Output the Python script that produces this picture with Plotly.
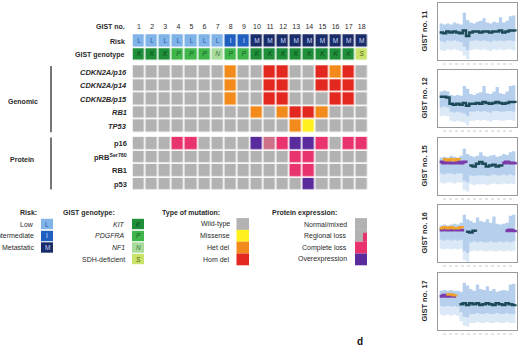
import plotly.graph_objects as go

W, H = 522, 348

# ---------------- data ----------------
gist_no = list(range(1, 19))
risk = ["L", "L", "L", "L", "L", "L", "L", "I", "I", "M", "M", "M", "M", "M", "M", "M", "M", "M"]
genotype = ["K", "K", "K", "P", "P", "P", "N", "P", "P", "K", "K", "K", "K", "K", "K", "K", "K", "S"]

genomic_labels = ["CDKN2A/p16", "CDKN2A/p14", "CDKN2B/p15", "RB1", "TP53"]
# '-' wild type, 'm' missense, 'h' het del, 'H' hom del
genomic_calls = [
    "-------h--HH--HhH-",
    "-------h--HH--HHH-",
    "-------h--HH---HH-",
    "---------h-hHHh---",
    "------------hm----",
]
protein_labels = ["p16", "pRB<sup>Ser780</sup>", "RB1", "p53"]
# '-' normal/mixed, 'r' regional loss, 'c' complete loss, 'o' overexpression
protein_calls = [
    "---cc----orcooc-cc",
    "------------cc----",
    "------------cc----",
    "-------------o----",
]

risk_legend = ["Low", "Intermediate", "Metastatic"]
risk_letters = ["L", "I", "M"]
geno_legend = ["<i>KIT</i>", "<i>PDGFRA</i>", "<i>NF1</i>", "SDH-deficient"]
geno_letters = ["K", "P", "N", "S"]
mut_legend = ["Wild-type", "Missense", "Het del", "Hom del"]
prot_legend = ["Normal/mixed", "Regional loss", "Complete loss", "Overexpression"]

panel_names = ["GIST no. 11", "GIST no. 12", "GIST no. 15", "GIST no. 16", "GIST no. 17"]
panel_hi = [
    [0.35, 0.3, 0.35, 0.3, 0.4, 0.35, 0.3, 0.95, 0.55, 0.4, 0.35, 0.45, 0.5, 0.65, 0.4, 0.35, 0.45, 0.4, 0.7, 0.4, 0.5, 0.75, 0.8, 0.4],
    [0.3, 0.35, 0.3, 0.1, 0.05, 0.1, 0.05, 0.6, 0.45, 0.15, 0.1, 0.2, 0.25, 0.6, 0.2, 0.15, 0.3, 0.55, 0.2, 0.15, 0.3, 0.6, 0.65, 0.2],
    [0.4, 0.45, 0.4, 0.5, 0.45, 0.4, 0.5, 0.9, 0.6, 0.5, 0.45, 0.5, 0.7, 0.5, 0.45, 0.5, 0.55, 0.45, 0.5, 0.6, 0.55, 0.7, 0.75, 0.5],
    [0.35, 0.4, 0.35, 0.4, 0.45, 0.4, 0.5, 0.95, 0.7, 0.6, 0.5, 0.8, 0.6, 0.55, 0.7, 0.5, 0.85, 0.45, 0.4, 0.45, 0.5, 0.9, 0.95, 0.5],
    [0.5, 0.55, 0.5, 0.55, 0.5, 0.5, 0.45, 0.95, 0.8, 0.6, 0.5, 0.85, 0.6, 0.55, 0.75, 0.5, 0.6, 0.45, 0.5, 0.55, 0.5, 0.85, 0.9, 0.45],
]
panel_lo = [
    [-0.65, -0.7, -0.6, -0.65, -0.6, -0.65, -0.7, -0.95, -1.15, -0.65, -0.6, -0.6, -0.65, -0.6, -0.65, -0.7, -0.6, -0.65, -0.6, -0.65, -0.6, -0.6, -0.65, -0.6],
    [-0.6, -0.55, -0.6, -0.85, -0.9, -0.85, -0.9, -0.95, -1.1, -0.85, -0.85, -0.8, -0.85, -0.8, -0.85, -0.9, -0.8, -0.8, -0.85, -0.85, -0.8, -0.8, -0.85, -0.85],
    [-0.5, -0.55, -0.5, -0.5, -0.55, -0.5, -0.5, -0.9, -1.0, -0.6, -0.65, -0.6, -0.6, -0.6, -0.65, -0.6, -0.55, -0.6, -0.6, -0.55, -0.6, -0.55, -0.6, -0.6],
    [-0.45, -0.5, -0.45, -0.5, -0.45, -0.5, -0.45, -1.1, -1.2, -0.6, -0.55, -0.6, -0.55, -0.6, -0.6, -0.55, -0.6, -0.6, -0.55, -0.6, -0.55, -0.6, -0.55, -0.5],
    [-0.35, -0.4, -0.35, -0.4, -0.35, -0.4, -0.7, -0.95, -1.0, -0.8, -0.8, -0.75, -0.8, -0.8, -0.75, -0.8, -0.8, -0.75, -0.8, -0.8, -0.75, -0.8, -0.8, -0.75],
]
panel_seg = [
    [-0.15, -0.2, -0.1, -0.15, -0.1, -0.15, -0.2, -0.05, -0.35, -0.15, -0.1, -0.1, -0.15, -0.1, -0.1, -0.15, -0.1, -0.1, -0.05, -0.15, -0.1, -0.05, -0.05, -0.1],
    [0.0, 0.0, -0.05, -0.4, -0.45, -0.4, -0.45, -0.35, -0.5, -0.4, -0.4, -0.35, -0.4, -0.3, -0.35, -0.4, -0.35, -0.3, -0.35, -0.4, -0.35, -0.3, -0.3, -0.35],
    [None] * 9 + [-0.05, -0.1, 0.05, 0.15, 0.05, -0.1, -0.05, 0.0, -0.1, -0.05, -0.1, None, None, None, None],
    [None] * 8 + [0.0, -0.05, 0.05, 0.0] + [None] * 12,
    [None] * 6 + [-0.25, -0.2, -0.3, -0.2, -0.25, -0.2, -0.3, -0.25, -0.2, -0.25, -0.3, -0.2, -0.25, -0.3, -0.2, -0.25, -0.3, -0.25],
]
panel_purple = [
    None,
    None,
    [0.15, 0.1, 0.15, 0.1, 0.1, 0.15, 0.1, 0.15, 0.1] + [None] * 10 + [0.1, 0.15, 0.1, 0.1, 0.15],
    [0.1, 0.15, 0.1, 0.1, 0.15, 0.1, 0.1, 0.15] + [None] * 12 + [0.05, 0.1, 0.05, 0.1],
    [0.2, 0.25, 0.2, 0.25, 0.2, 0.2] + [None] * 18,
]
panel_orange = [
    None,
    None,
    [None, 0.3, 0.25, 0.3, 0.25, 0.3, 0.25] + [None] * 17,
    [0.2, 0.25, 0.2, 0.25, 0.2, 0.2, 0.25, 0.2] + [None] * 16,
    [None, None, 0.3, 0.3, 0.25, 0.3] + [None] * 18,
]

# ---------------- codes / colours ----------------
palette = [
    "#b2b2b2",  # 0 wild type / normal
    "#fff01e",  # 1 missense
    "#f28b1c",  # 2 het del
    "#e3281f",  # 3 hom del
    "#cd7088",  # 4 regional loss
    "#e8336d",  # 5 complete loss
    "#5a2b9c",  # 6 overexpression
    "#80b3e8",  # 7 risk L
    "#1f5fbf",  # 8 risk I
    "#1b2d68",  # 9 risk M
    "#1f8f3a",  # 10 KIT
    "#3fb54a",  # 11 PDGFRA
    "#a9dc9c",  # 12 NF1
    "#c9e26a",  # 13 SDH
]
gen_code = {"-": 0, "m": 1, "h": 2, "H": 3}
prot_code = {"-": 0, "r": 4, "c": 5, "o": 6}
risk_code = {"L": 7, "I": 8, "M": 9}
geno_code = {"K": 10, "P": 11, "N": 12, "S": 13}
risk_text_col = {"L": "#2a5aa8", "I": "#cfe0ff", "M": "#c8d6ff"}
geno_text_col = {"K": "#0c4a1c", "P": "#14602a", "N": "#3d7a3d", "S": "#4d5a10"}

n = len(palette)
cscale = []
for i, c in enumerate(palette):
    cscale.append([i / n, c])
    cscale.append([(i + 1) / n, c])

FONT = "Liberation Sans, Arial, sans-serif"
TXT = "#2a2a2a"

# row positions (axis units)
y_numbers = -1.05
y_header = [0, 1]
y_genomic = [2.3, 3.3, 4.3, 5.3, 6.3]
y_protein = [7.6, 8.6, 9.6, 10.6]
y_top, y_bot = -1.7, 11.1
ROW_PX = 13.5

# pixel layout of main grid
gx0, gx1 = 132.5, 368.3
gy_top = 41 + y_top * ROW_PX
gy_bot = 41 + y_bot * ROW_PX


def px(x):
    return x / W


def py(y):
    return 1 - y / H


fig = go.Figure()

hm_common = dict(x=gist_no, zmin=-0.5, zmax=n - 0.5, colorscale=cscale, showscale=False,
                 xgap=1.6, ygap=1.6, hoverinfo="skip")
fig.add_trace(go.Heatmap(z=[[risk_code[r] for r in risk], [geno_code[g] for g in genotype]],
                         y=y_header, **hm_common))
fig.add_trace(go.Heatmap(z=[[gen_code[c] for c in row] for row in genomic_calls],
                         y=y_genomic, **hm_common))
fig.add_trace(go.Heatmap(z=[[prot_code[c] for c in row] for row in protein_calls],
                         y=y_protein, **hm_common))

# letters in the risk / genotype cells
fig.add_trace(go.Scatter(x=gist_no, y=[y_header[0]] * 18, mode="text", text=risk,
                         textfont=dict(size=6.5, family=FONT, color=[risk_text_col[r] for r in risk]),
                         hoverinfo="skip", cliponaxis=False, showlegend=False))
fig.add_trace(go.Scatter(x=gist_no, y=[y_header[1]] * 18, mode="text",
                         text=["<i>%s</i>" % g for g in genotype],
                         textfont=dict(size=6.5, family=FONT, color=[geno_text_col[g] for g in genotype]),
                         hoverinfo="skip", cliponaxis=False, showlegend=False))
# GIST numbers
fig.add_trace(go.Scatter(x=gist_no, y=[y_numbers] * 18, mode="text", text=[str(g) for g in gist_no],
                         textfont=dict(size=7, family=FONT, color=TXT),
                         hoverinfo="skip", cliponaxis=False, showlegend=False))

annotations = []
shapes = []


def label(text, x, y, yref="paper", size=7, bold=False, anchor="right", color=TXT, angle=0):
    t = "<b>%s</b>" % text if bold else text
    annotations.append(dict(text=t, x=x, y=y, xref="paper", yref=yref, showarrow=False,
                            xanchor=anchor, yanchor="middle", textangle=angle,
                            font=dict(size=size, family=FONT, color=color)))


# header row labels
lab_x = px(127)
label("GIST no.", lab_x, y_numbers, yref="y", bold=True)
label("Risk", lab_x, y_header[0], yref="y", bold=True)
label("GIST genotype", lab_x, y_header[1], yref="y", bold=True)
for t, yy in zip(genomic_labels, y_genomic):
    label("<i><b>%s</b></i>" % t, px(129), yy, yref="y", size=7.5)
for t, yy in zip(protein_labels, y_protein):
    label("<b>%s</b>" % t, px(129), yy, yref="y", size=7.5)

# group labels and bars
label("Genomic", px(23), 4.5, yref="y", bold=True, anchor="center")
label("Protein", px(22), 8.8, yref="y", bold=True, anchor="center")
shapes.append(dict(type="line", xref="paper", yref="y", x0=px(51), x1=px(51),
                   y0=1.85, y1=6.75, line=dict(color="#555", width=1.6)))
shapes.append(dict(type="line", xref="paper", yref="y", x0=px(51), x1=px(51),
                   y0=7.15, y1=11.0, line=dict(color="#555", width=1.6)))

# ---------------- legends ----------------
leg_rows = [224, 236, 247.5, 259]
label("Risk:", px(18), py(212.5), bold=True, anchor="left")
for i, (t, l) in enumerate(zip(risk_legend, risk_letters)):
    yc = leg_rows[i]
    label(t, px(36), py(yc))
    shapes.append(dict(type="rect", xref="paper", yref="paper", x0=px(41), x1=px(53),
                       y0=py(yc + 5.2), y1=py(yc - 5.2), line=dict(width=0),
                       fillcolor=palette[risk_code[l]]))
    label(l, px(47), py(yc), anchor="center", size=6.5, color=risk_text_col[l])

label("GIST genotype:", px(61), py(212.5), bold=True, anchor="left")
for i, (t, l) in enumerate(zip(geno_legend, geno_letters)):
    yc = leg_rows[i]
    label(t, px(127), py(yc))
    shapes.append(dict(type="rect", xref="paper", yref="paper", x0=px(132), x1=px(144),
                       y0=py(yc + 5.2), y1=py(yc - 5.2), line=dict(width=0),
                       fillcolor=palette[geno_code[l]]))
    label("<i>%s</i>" % l, px(138), py(yc), anchor="center", size=6.5, color=geno_text_col[l])

label("Type of mutation:", px(160), py(212.5), bold=True, anchor="left")
for i, (t, code) in enumerate(zip(mut_legend, [0, 1, 2, 3])):
    yc = 224 + i * 11.8
    label(t, px(232), py(yc))
    shapes.append(dict(type="rect", xref="paper", yref="paper", x0=px(236.5), x1=px(249),
                       y0=py(yc + 5.9), y1=py(yc - 5.9), line=dict(width=0),
                       fillcolor=palette[code]))

label("Protein expression:", px(270), py(212.5), bold=True, anchor="left")
for i, (t, code) in enumerate(zip(prot_legend, [0, 4, 5, 6])):
    yc = 224 + i * 11.8
    label(t, px(349), py(yc))
    fill = palette[code] if code != 4 else palette[0]
    shapes.append(dict(type="rect", xref="paper", yref="paper", x0=px(355), x1=px(367),
                       y0=py(yc + 5.9), y1=py(yc - 5.9), line=dict(width=0), fillcolor=fill))
    if code == 4:
        shapes.append(dict(type="rect", xref="paper", yref="paper", x0=px(363), x1=px(367),
                           y0=py(yc + 5.9), y1=py(yc - 3), line=dict(width=0),
                           fillcolor=palette[5]))

label("d", px(360), py(341), bold=True, anchor="center", size=10, color="#111")

# ---------------- copy-number panels ----------------
panel_tops = [3, 70, 138, 205, 273]
panel_h = 57
bins = list(range(24))
layout_axes = {}
for k in range(5):
    ax = k + 2
    xa, ya = "x%d" % ax, "y%d" % ax
    lo = panel_lo[k]
    hi = panel_hi[k]
    lo2 = [v - 0.5 for v in lo]
    fig.add_trace(go.Scatter(x=bins, y=lo2, mode="lines", line=dict(width=0, shape="hv"),
                             xaxis=xa, yaxis=ya, hoverinfo="skip", showlegend=False))
    fig.add_trace(go.Scatter(x=bins, y=lo, mode="lines", line=dict(width=0, shape="hv"),
                             fill="tonexty", fillcolor="rgba(195,218,242,0.6)",
                             xaxis=xa, yaxis=ya, hoverinfo="skip", showlegend=False))
    fig.add_trace(go.Scatter(x=bins, y=hi, mode="lines", line=dict(width=0, shape="hv"),
                             fill="tonexty", fillcolor="rgba(120,168,220,0.55)",
                             xaxis=xa, yaxis=ya, hoverinfo="skip", showlegend=False))
    if panel_purple[k] is not None:
        fig.add_trace(go.Scatter(x=bins, y=panel_purple[k], mode="lines",
                                 line=dict(width=3, color="#7a3aa8", shape="hv"),
                                 xaxis=xa, yaxis=ya, hoverinfo="skip", showlegend=False))
        fig.add_trace(go.Scatter(x=bins, y=panel_orange[k], mode="lines",
                                 line=dict(width=2.5, color="#f0a32a", shape="hv"),
                                 xaxis=xa, yaxis=ya, hoverinfo="skip", showlegend=False))
    fig.add_trace(go.Scatter(x=bins, y=panel_seg[k], mode="lines",
                             line=dict(width=2.5, color="#1d4a58", shape="hv"),
                             xaxis=xa, yaxis=ya, hoverinfo="skip", showlegend=False))
    top = panel_tops[k]
    dom_y = [py(top + panel_h), py(top)]
    layout_axes["xaxis%d" % ax] = dict(domain=[px(438), px(517)], range=[-0.5, 23.5],
                                       anchor=ya, showline=True, mirror=True, linecolor="#9a9a9a",
                                       linewidth=0.8, showgrid=False, zeroline=False,
                                       showticklabels=False, ticks="")
    layout_axes["yaxis%d" % ax] = dict(domain=dom_y, range=[-1.7, 1.5], anchor=xa,
                                       showline=True, mirror=True, linecolor="#9a9a9a",
                                       linewidth=0.8, showgrid=False, zeroline=False,
                                       showticklabels=False, ticks="")
    label(panel_names[k], px(424), py(top + panel_h / 2), bold=True, anchor="center",
          size=7.5, angle=-90)
    shapes.append(dict(type="line", xref="paper", yref="paper", x0=px(443), x1=px(512),
                       y0=py(top + panel_h + 4), y1=py(top + panel_h + 4),
                       line=dict(color="#c8c8c8", width=1, dash="dot")))

fig.update_layout(
    width=W, height=H, margin=dict(l=0, r=0, t=0, b=0),
    paper_bgcolor="white", plot_bgcolor="white",
    xaxis=dict(domain=[px(gx0), px(gx1)], range=[0.5, 18.5], visible=False),
    yaxis=dict(domain=[py(gy_bot), py(gy_top)], range=[y_bot, y_top], visible=False),
    annotations=annotations, shapes=shapes, showlegend=False,
    **layout_axes,
)

fig.write_html("out.html")
